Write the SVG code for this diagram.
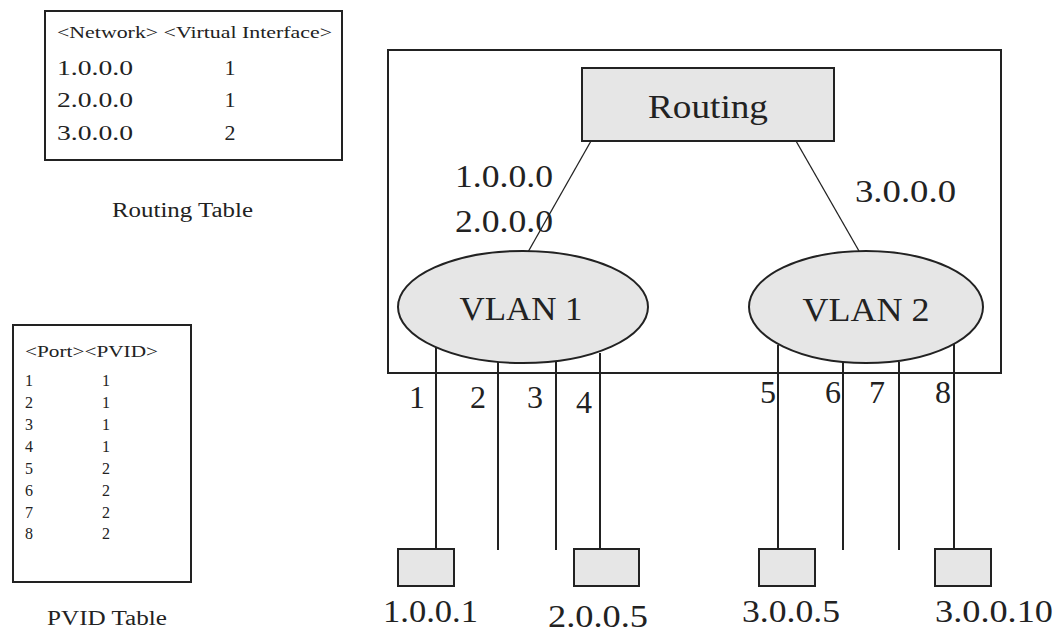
<svg xmlns="http://www.w3.org/2000/svg" width="1058" height="632" viewBox="0 0 1058 632">
<style>
text{font-family:"Liberation Serif","Times New Roman",serif;fill:#222}
.box{fill:#fff;stroke:#222;stroke-width:2}
.node{fill:#e6e6e6;stroke:#222;stroke-width:2}
.ln{stroke:#222;stroke-width:2;fill:none}
.thin{stroke:#222;stroke-width:1.3;fill:none}
.sm{font-size:16px}
.md{font-size:22px}
.lg{font-size:32px}
</style>
<rect width="1058" height="632" fill="#fff"/>

<g id="routing-table">
<rect class="box" x="45" y="11" width="297" height="149"/>
<text class="sm" x="57" y="38" textLength="275" lengthAdjust="spacingAndGlyphs">&lt;Network&gt; &lt;Virtual Interface&gt;</text>
<text class="md" x="57" y="75" textLength="76" lengthAdjust="spacingAndGlyphs">1.0.0.0</text>
<text class="md" x="230" y="75" text-anchor="middle">1</text>
<text class="md" x="57" y="107" textLength="76" lengthAdjust="spacingAndGlyphs">2.0.0.0</text>
<text class="md" x="230" y="107" text-anchor="middle">1</text>
<text class="md" x="57" y="140" textLength="76" lengthAdjust="spacingAndGlyphs">3.0.0.0</text>
<text class="md" x="230" y="140" text-anchor="middle">2</text>
<text x="112" y="217" font-size="20" textLength="141" lengthAdjust="spacingAndGlyphs">Routing Table</text>
</g>

<g id="pvid-table">
<rect class="box" x="13" y="325" width="178" height="257"/>
<text class="sm" x="25" y="357" textLength="133" lengthAdjust="spacingAndGlyphs">&lt;Port&gt;&lt;PVID&gt;</text>
<g class="sm">
<text class="sm" x="25" y="386">1</text><text class="sm" x="102" y="386">1</text>
<text class="sm" x="25" y="408">2</text><text class="sm" x="102" y="408">1</text>
<text class="sm" x="25" y="430">3</text><text class="sm" x="102" y="430">1</text>
<text class="sm" x="25" y="452">4</text><text class="sm" x="102" y="452">1</text>
<text class="sm" x="25" y="474">5</text><text class="sm" x="102" y="474">2</text>
<text class="sm" x="25" y="496">6</text><text class="sm" x="102" y="496">2</text>
<text class="sm" x="25" y="518">7</text><text class="sm" x="102" y="518">2</text>
<text class="sm" x="25" y="539">8</text><text class="sm" x="102" y="539">2</text>
</g>
<text x="47" y="625" font-size="20" textLength="120" lengthAdjust="spacingAndGlyphs">PVID Table</text>
</g>

<g id="switch">
<rect class="box" x="388" y="50" width="613" height="323"/>
</g>

<g id="connectors">
<line class="thin" x1="591" y1="141" x2="528" y2="252"/>
<line class="thin" x1="796" y1="141" x2="859" y2="251"/>
<line class="ln" x1="436" y1="348" x2="436" y2="549"/>
<line class="ln" x1="498" y1="362" x2="498" y2="550"/>
<line class="ln" x1="556" y1="362" x2="556" y2="550"/>
<line class="ln" x1="600" y1="353" x2="600" y2="549"/>
<line class="ln" x1="778" y1="345" x2="778" y2="549"/>
<line class="ln" x1="843" y1="362" x2="843" y2="550"/>
<line class="ln" x1="899" y1="362" x2="899" y2="550"/>
<line class="ln" x1="954" y1="344" x2="954" y2="549"/>
</g>

<g id="routing">
<rect class="node" x="582" y="68" width="252" height="73"/>
<text x="708" y="118" font-size="34" text-anchor="middle" textLength="120" lengthAdjust="spacingAndGlyphs">Routing</text>
</g>

<g id="vlan1">
<ellipse class="node" cx="523" cy="307" rx="125" ry="56"/>
<text x="521" y="320" font-size="34" text-anchor="middle" textLength="123" lengthAdjust="spacingAndGlyphs">VLAN 1</text>
</g>

<g id="vlan2">
<ellipse class="node" cx="866" cy="307" rx="117" ry="56"/>
<text x="866" y="321" font-size="34" text-anchor="middle" textLength="127" lengthAdjust="spacingAndGlyphs">VLAN 2</text>
</g>

<g id="labels-vlan1">
<text class="lg" x="455" y="187" textLength="98" lengthAdjust="spacingAndGlyphs">1.0.0.0</text>
<text class="lg" x="455" y="232" textLength="98" lengthAdjust="spacingAndGlyphs">2.0.0.0</text>
</g>
<g id="labels-vlan2">
<text class="lg" x="855" y="202" textLength="101" lengthAdjust="spacingAndGlyphs">3.0.0.0</text>
</g>

<g id="ports">
<text class="lg" x="417" y="408" text-anchor="middle">1</text>
<text class="lg" x="478" y="408" text-anchor="middle">2</text>
<text class="lg" x="535" y="408" text-anchor="middle">3</text>
<text class="lg" x="584" y="413" text-anchor="middle">4</text>
<text class="lg" x="768" y="403" text-anchor="middle">5</text>
<text class="lg" x="833" y="403" text-anchor="middle">6</text>
<text class="lg" x="877" y="403" text-anchor="middle">7</text>
<text class="lg" x="943" y="403" text-anchor="middle">8</text>
</g>

<g id="host-1.0.0.1">
<rect class="node" x="398" y="549" width="56" height="37"/>
<text class="lg" x="383" y="622" textLength="95" lengthAdjust="spacingAndGlyphs">1.0.0.1</text>
</g>
<g id="host-2.0.0.5">
<rect class="node" x="574" y="549" width="65" height="37"/>
<text class="lg" x="548" y="627" textLength="100" lengthAdjust="spacingAndGlyphs">2.0.0.5</text>
</g>
<g id="host-3.0.0.5">
<rect class="node" x="759" y="549" width="56" height="37"/>
<text class="lg" x="742" y="622" textLength="98" lengthAdjust="spacingAndGlyphs">3.0.0.5</text>
</g>
<g id="host-3.0.0.10">
<rect class="node" x="935" y="549" width="56" height="37"/>
<text class="lg" x="935" y="622" textLength="118" lengthAdjust="spacingAndGlyphs">3.0.0.10</text>
</g>
</svg>
